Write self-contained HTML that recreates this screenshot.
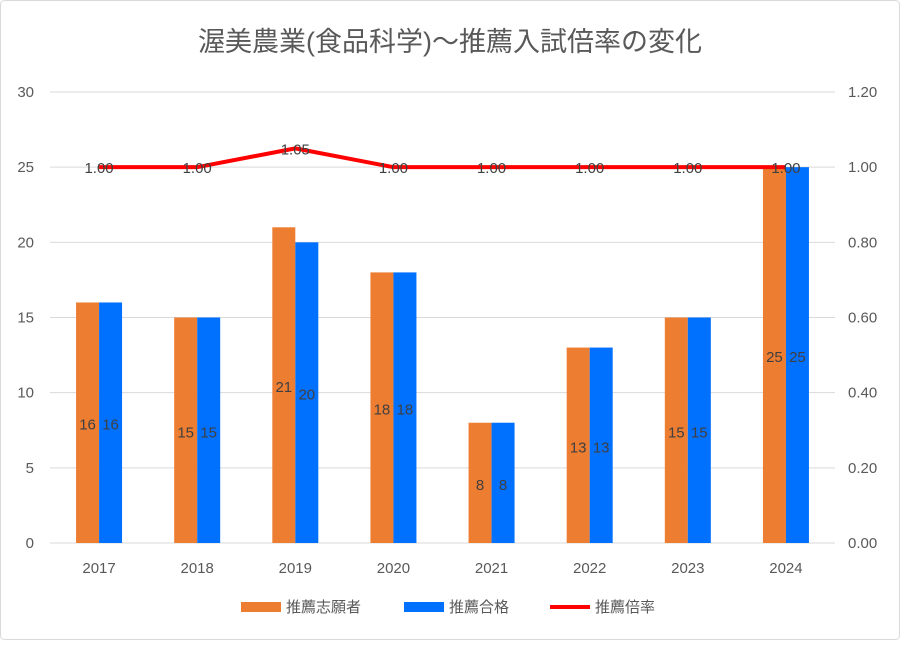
<!DOCTYPE html>
<html><head><meta charset="utf-8"><style>
body{margin:0;background:#fff}
svg text{font-family:"Liberation Sans","Noto Sans CJK JP",sans-serif}
</style></head><body>
<svg width="900" height="640" viewBox="0 0 900 640">
<rect x="0.5" y="0.5" width="899" height="639" fill="#fff" stroke="#d9d9d9" rx="4"/>
<text x="450" y="51" text-anchor="middle" font-size="27" fill="#595959">渥美農業(食品科学)～推薦入試倍率の変化</text>
<g id="grid"></g><g id="bars"></g><g id="line"></g><g id="labels"></g>
<g>
<rect x="241" y="602" width="40" height="10" fill="#ED7D31"/>
<text x="286" y="612" font-size="15" fill="#595959">推薦志願者</text>
<rect x="404" y="602" width="40" height="10" fill="#0070FF"/>
<text x="449" y="612" font-size="15" fill="#595959">推薦合格</text>
<line x1="550" y1="607" x2="590" y2="607" stroke="#FF0000" stroke-width="4"/>
<text x="595" y="612" font-size="15" fill="#595959">推薦倍率</text>
</g>
</svg>
<script>
const categories=["2017","2018","2019","2020","2021","2022","2023","2024"];
const applicants=[16,15,21,18,8,13,15,25];
const passed=[16,15,20,18,8,13,15,25];
const ratio=[1.00,1.00,1.05,1.00,1.00,1.00,1.00,1.00];
const leftTicks=[0,5,10,15,20,25,30];
const rightTicks=["0.00","0.20","0.40","0.60","0.80","1.00","1.20"];
const NS="http://www.w3.org/2000/svg";
const X0=50,X1=835,Y0=543,Y1=92;
const yL=v=>Y0-(v/30)*(Y0-Y1);
const yR=v=>Y0-(v/1.2)*(Y0-Y1);
const step=(X1-X0)/categories.length;
const xC=i=>X0+step*(i+0.5);
function mk(t,a,p){const e=document.createElementNS(NS,t);for(const k in a)e.setAttribute(k,a[k]);p.appendChild(e);return e;}
const grid=document.getElementById('grid'),bars=document.getElementById('bars'),line=document.getElementById('line'),labels=document.getElementById('labels');
leftTicks.forEach((v,i)=>{
 const l=mk('line',{x1:X0,x2:X1,y1:yL(v),y2:yL(v),stroke:'#d9d9d9','stroke-width':1},grid);
 
 
 const t=mk('text',{x:34,y:yL(v)+5,'text-anchor':'end','font-size':15,fill:'#595959'},grid);t.textContent=v;
 
 
 const r=mk('text',{x:848,y:yL(v)+5,'font-size':15,fill:'#595959'},grid);r.textContent=rightTicks[i];
 
 
});
const bw=23;
categories.forEach((c,i)=>{
 const cx=xC(i);
 const a=mk('rect',{x:cx-bw,y:yL(applicants[i]),width:bw,height:Y0-yL(applicants[i]),fill:'#ED7D31'},bars);
 
 
 const b=mk('rect',{x:cx,y:yL(passed[i]),width:bw,height:Y0-yL(passed[i]),fill:'#0070FF'},bars);
 
 
 const ta=mk('text',{x:cx-bw/2,y:(Y0+yL(applicants[i]))/2+7,'text-anchor':'middle','font-size':15,fill:'#404040'},labels);ta.textContent=applicants[i];
 
 
 const tb=mk('text',{x:cx+bw/2,y:(Y0+yL(passed[i]))/2+7,'text-anchor':'middle','font-size':15,fill:'#404040'},labels);tb.textContent=passed[i];
 
 
 const xt=mk('text',{x:cx,y:573,'text-anchor':'middle','font-size':15,fill:'#595959'},grid);xt.textContent=c;
 
 
});
const pl=mk('polyline',{points:ratio.map((v,i)=>xC(i)+','+yR(v)).join(' '),fill:'none',stroke:'#FF0000','stroke-width':4,'stroke-linejoin':'round'},line);


ratio.forEach((v,i)=>{
 const t=mk('text',{x:xC(i),y:yR(v)+6,'text-anchor':'middle','font-size':15,fill:'#404040'},labels);t.textContent=v.toFixed(2);
 
 
});
</script>
</body></html>
